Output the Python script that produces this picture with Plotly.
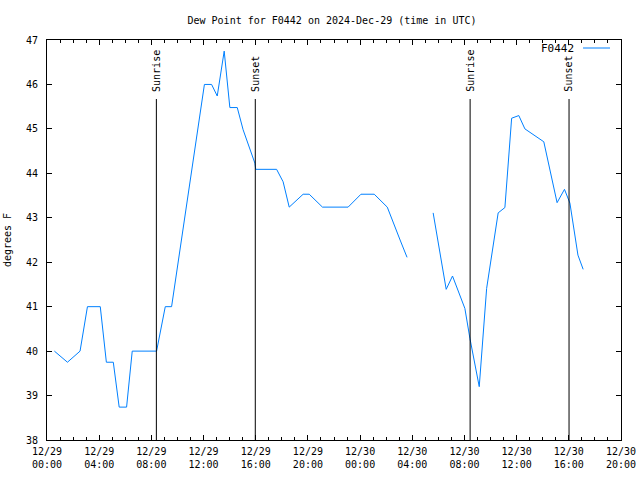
import plotly.graph_objects as go

times = [
    "2024-12-29 00:34", "2024-12-29 01:34", "2024-12-29 02:32", "2024-12-29 03:06",
    "2024-12-29 04:05", "2024-12-29 04:33", "2024-12-29 05:05", "2024-12-29 05:32",
    "2024-12-29 06:06", "2024-12-29 06:32", "2024-12-29 08:24", "2024-12-29 09:04",
    "2024-12-29 09:33", "2024-12-29 12:04", "2024-12-29 12:37", "2024-12-29 13:03",
    "2024-12-29 13:35", "2024-12-29 14:01", "2024-12-29 14:35", "2024-12-29 15:02",
    "2024-12-29 15:56", "2024-12-29 16:00", "2024-12-29 17:36", "2024-12-29 18:06",
    "2024-12-29 18:34", "2024-12-29 19:38", "2024-12-29 20:06", "2024-12-29 21:07",
    "2024-12-29 23:05", "2024-12-30 00:04", "2024-12-30 01:05", "2024-12-30 02:05",
    "2024-12-30 03:04", "2024-12-30 03:36",
    "2024-12-30 04:30",
    "2024-12-30 05:36", "2024-12-30 06:36", "2024-12-30 07:05", "2024-12-30 08:02",
    "2024-12-30 08:25", "2024-12-30 09:08", "2024-12-30 09:42", "2024-12-30 10:35",
    "2024-12-30 11:06", "2024-12-30 11:37", "2024-12-30 12:10", "2024-12-30 12:38",
    "2024-12-30 14:05", "2024-12-30 15:06", "2024-12-30 15:40", "2024-12-30 16:05",
    "2024-12-30 16:42", "2024-12-30 17:06",
]
dewpoint = [
    40.0, 39.75, 40.0, 41.0,
    41.0, 39.75, 39.75, 38.74,
    38.74, 40.0, 40.0, 41.0,
    41.0, 46.0, 46.0, 45.74,
    46.75, 45.48, 45.48, 44.98,
    44.23, 44.09, 44.09, 43.81,
    43.24, 43.53, 43.53, 43.24,
    43.24, 43.53, 43.53, 43.24,
    42.5, 42.11,
    None,
    43.11, 41.39, 41.69, 40.96,
    40.29, 39.2, 41.41, 43.11,
    43.23, 45.24, 45.3, 45.0,
    44.71, 43.34, 43.64, 43.33,
    42.16, 41.84,
]

sun_times = ["2024-12-29 08:23", "2024-12-29 15:58", "2024-12-30 08:26", "2024-12-30 16:01"]
sun_labels = ["Sunrise", "Sunset", "Sunrise", "Sunset"]

tick_vals = ["2024-12-29 00:00", "2024-12-29 04:00", "2024-12-29 08:00", "2024-12-29 12:00",
             "2024-12-29 16:00", "2024-12-29 20:00", "2024-12-30 00:00", "2024-12-30 04:00",
             "2024-12-30 08:00", "2024-12-30 12:00", "2024-12-30 16:00", "2024-12-30 20:00"]
tick_text = ["12/29<br>00:00", "12/29<br>04:00", "12/29<br>08:00", "12/29<br>12:00",
             "12/29<br>16:00", "12/29<br>20:00", "12/30<br>00:00", "12/30<br>04:00",
             "12/30<br>08:00", "12/30<br>12:00", "12/30<br>16:00", "12/30<br>20:00"]
y_ticks = [38, 39, 40, 41, 42, 43, 44, 45, 46, 47]

FONT = "DejaVu Sans Mono"
LINE_COLOR = "#0080ff"

fig = go.Figure()
fig.add_trace(go.Scatter(x=times, y=dewpoint, mode="lines", name="F0442",
                         line=dict(color=LINE_COLOR, width=1), connectgaps=False,
                         showlegend=False))

for t, lab in zip(sun_times, sun_labels):
    fig.add_shape(type="line", xref="x", yref="paper", x0=t, x1=t, y0=0, y1=0.8525,
                  line=dict(color="black", width=1))
    fig.add_annotation(x=t, xref="x", y=0.866, yref="paper", text=lab, textangle=-90,
                       showarrow=False, xanchor="center", yanchor="bottom",
                       font=dict(family=FONT, size=10, color="black"))

# legend (gnuplot style: text then sample)
fig.add_annotation(x=(576 - 47) / 574, xref="paper", y=(440 - 49) / 400, yref="paper",
                   text="F0442", showarrow=False, xanchor="right", yanchor="middle",
                   font=dict(family=FONT, size=11, color="black"))
fig.add_shape(type="line", xref="paper", yref="paper",
              x0=(583 - 47) / 574, x1=(610 - 47) / 574, y0=(440 - 48) / 400, y1=(440 - 48) / 400,
              line=dict(color=LINE_COLOR, width=1))

fig.update_layout(
    width=640, height=480,
    margin=dict(l=47, r=19, t=40, b=40, autoexpand=False),
    paper_bgcolor="white", plot_bgcolor="white",
    title=dict(text="Dew Point for F0442 on 2024-Dec-29 (time in UTC)", x=332 / 640, xanchor="center",
               y=1 - 20 / 480, yanchor="middle", font=dict(family=FONT, size=10, color="black")),
    font=dict(family=FONT, size=10, color="black"),
)
fig.update_xaxes(
    type="date", range=["2024-12-29 00:00", "2024-12-30 20:00"], automargin=False,
    tickmode="array", tickvals=tick_vals, ticktext=tick_text,
    ticks="inside", ticklen=5, tickcolor="black", tickwidth=1,
    minor=dict(ticks="inside", ticklen=3, dtick=3600000, tick0="2024-12-29 00:00",
               tickcolor="black", showgrid=False),
    showline=True, linecolor="black", linewidth=1, mirror="ticks",
    showgrid=False, zeroline=False, tickangle=0, ticklabelstandoff=2,
    tickfont=dict(family=FONT, size=10, color="black"),
)
fig.update_yaxes(
    range=[38, 47], automargin=False, tickmode="array", tickvals=y_ticks,
    ticktext=[str(v) for v in y_ticks],
    ticks="inside", ticklen=5, tickcolor="black", tickwidth=1,
    showline=True, linecolor="black", linewidth=1, mirror="ticks",
    showgrid=False, zeroline=False, ticklabelstandoff=6,
    title=dict(text="degrees F", font=dict(family=FONT, size=10, color="black"), standoff=12),
    tickfont=dict(family=FONT, size=10, color="black"),
)

fig.write_html("out.html")
